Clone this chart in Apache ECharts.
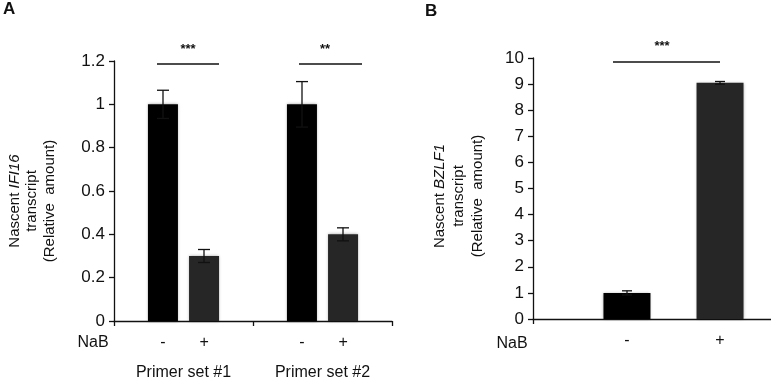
<!DOCTYPE html>
<html>
<head>
<meta charset="utf-8">
<script src="https://cdn.jsdelivr.net/npm/echarts@6/dist/echarts.min.js"></script>
<style>
  html, body { margin: 0; padding: 0; background: #fff; }
  #Chart { width: 771px; height: 380px; }
</style>
</head>
<body>
<div id="Chart"></div>
<script>
var Chart = echarts.init(document.getElementById('Chart'));

// panel A
var groupsA = ['Primer set #1', 'Primer set #2'];
var minusA = [1.0, 1.0];
var plusA = [0.30, 0.40];
var minusErrA = [0.065, 0.105];
var plusErrA = [0.03, 0.03];
var yMaxA = 1.2, yStepA = 0.2;

// panel B
var groupsB = [''];
var minusB = [1.0];
var plusB = [9.05];
var minusErrB = [0.08];
var plusErrB = [0.05];
var yMaxB = 10, yStepB = 1;

var font = 'Liberation Sans, Arial, sans-serif';
var ink = '#111';

function errData(vals, errs) {
    return vals.map(function (v, i) { return [i, v, errs[i]]; });
}

function errorBars(name, xi, data, shift, cap) {
    return {
        name: name,
        type: 'custom',
        xAxisIndex: xi,
        yAxisIndex: xi,
        z: 5,
        data: data,
        renderItem: function (params, api) {
            var hi = api.coord([api.value(0), api.value(1) + api.value(2)]);
            var lo = api.coord([api.value(0), api.value(1) - api.value(2)]);
            var x = hi[0] + shift;
            var st = { stroke: ink, lineWidth: 1.3 };
            return {
                type: 'group',
                children: [
                    { type: 'line', shape: { x1: x, y1: hi[1], x2: x, y2: lo[1] }, style: st },
                    { type: 'line', shape: { x1: x - cap / 2, y1: hi[1], x2: x + cap / 2, y2: hi[1] }, style: st },
                    { type: 'line', shape: { x1: x - cap / 2, y1: lo[1], x2: x + cap / 2, y2: lo[1] }, style: st }
                ]
            };
        }
    };
}

function barSeries(name, xi, data, color, width, gap) {
    return {
        name: name,
        type: 'bar',
        xAxisIndex: xi,
        yAxisIndex: xi,
        data: data,
        barWidth: width,
        barGap: gap,
        itemStyle: { color: color, shadowBlur: 3, shadowColor: 'rgba(0,0,0,0.35)' },
        label: {
            show: true,
            position: 'bottom',
            distance: 14,
            formatter: name,
            fontFamily: font,
            fontSize: 16,
            color: ink
        }
    };
}

var axisLine = { show: true, lineStyle: { color: ink, width: 1.3 } };
var axisTick = { show: true, length: 5, lineStyle: { color: ink, width: 1.3 } };
var tickLabel = { fontFamily: font, fontSize: 17, color: ink };

var option = {
    animation: false,
    grid: [
        { left: 114, top: 61, bottom: 59, width: 278, outerBoundsMode: 'none' },
        { left: 533, top: 58, bottom: 61, width: 281, outerBoundsMode: 'none' }
    ],
    xAxis: [
        {
            type: 'category', gridIndex: 0, data: groupsA,
            axisLine: axisLine, axisTick: axisTick,
            axisLabel: { margin: 44, fontFamily: font, fontSize: 16, color: ink }
        },
        {
            type: 'category', gridIndex: 1, data: groupsB,
            axisLine: axisLine, axisTick: axisTick,
            axisLabel: { show: false }
        }
    ],
    yAxis: [
        {
            type: 'value', gridIndex: 0, min: 0, max: yMaxA, interval: yStepA,
            splitLine: { show: false }, axisLine: axisLine, axisTick: axisTick,
            axisLabel: Object.assign({ margin: 9 }, tickLabel)
        },
        {
            type: 'value', gridIndex: 1, min: 0, max: yMaxB, interval: yStepB,
            splitLine: { show: false }, axisLine: axisLine, axisTick: axisTick,
            axisLabel: Object.assign({ margin: 9 }, tickLabel)
        }
    ],
    series: [
        barSeries('-', 0, minusA, '#000000', 30, '37%'),
        barSeries('+', 0, plusA, '#262626', 30, '37%'),
        errorBars('errMinusA', 0, errData(minusA, minusErrA), -20.5, 12),
        errorBars('errPlusA', 0, errData(plusA, plusErrA), 20.5, 12),
        barSeries('-', 1, minusB, '#000000', 47, '98%'),
        barSeries('+', 1, plusB, '#262626', 47, '98%'),
        errorBars('errMinusB', 1, errData(minusB, minusErrB), -46.5, 10),
        errorBars('errPlusB', 1, errData(plusB, plusErrB), 46.5, 10)
    ],
    graphic: [
        { type: 'text', left: 3, top: 1, style: { text: 'A', font: 'bold 17px ' + font, fill: ink } },
        { type: 'text', left: 425, top: 3, style: { text: 'B', font: 'bold 17px ' + font, fill: ink } },
        { type: 'text', x: 93, y: 343, style: { text: 'NaB', align: 'center', verticalAlign: 'middle', font: '16px ' + font, fill: ink } },
        { type: 'text', x: 512, y: 344, style: { text: 'NaB', align: 'center', verticalAlign: 'middle', font: '16px ' + font, fill: ink } },
        // significance
        { type: 'line', shape: { x1: 157, y1: 64, x2: 219, y2: 64 }, style: { stroke: ink, lineWidth: 1.3 } },
        { type: 'text', x: 188, y: 49, style: { text: '***', align: 'center', verticalAlign: 'middle', font: 'bold 13px ' + font, fill: ink } },
        { type: 'line', shape: { x1: 299, y1: 64, x2: 362, y2: 64 }, style: { stroke: ink, lineWidth: 1.3 } },
        { type: 'text', x: 325, y: 49, style: { text: '**', align: 'center', verticalAlign: 'middle', font: 'bold 13px ' + font, fill: ink } },
        { type: 'line', shape: { x1: 613, y1: 62, x2: 720, y2: 62 }, style: { stroke: ink, lineWidth: 1.3 } },
        { type: 'text', x: 662, y: 46, style: { text: '***', align: 'center', verticalAlign: 'middle', font: 'bold 13px ' + font, fill: ink } },
        // y axis titles
        {
            type: 'text', x: 32, y: 201, rotation: Math.PI / 2,
            style: {
                text: '{n|Nascent }{i|IFI16}\n{n|transcript}\n{n|(Relative  amount)}',
                align: 'center', verticalAlign: 'middle',
                rich: {
                    n: { fontFamily: font, fontSize: 15, lineHeight: 17.5, fill: ink, align: 'center' },
                    i: { fontFamily: font, fontSize: 15, fontStyle: 'italic', lineHeight: 17.5, fill: ink }
                }
            }
        },
        {
            type: 'text', x: 459, y: 196, rotation: Math.PI / 2,
            style: {
                text: '{n|Nascent }{i|BZLF1}\n{n|transcript}\n{n|(Relative  amount)}',
                align: 'center', verticalAlign: 'middle',
                rich: {
                    n: { fontFamily: font, fontSize: 15, lineHeight: 19, fill: ink, align: 'center' },
                    i: { fontFamily: font, fontSize: 15, fontStyle: 'italic', lineHeight: 19, fill: ink }
                }
            }
        }
    ]
};

Chart.setOption(option);

window.addEventListener("resize", function () {
    Chart.resize();
});
</script>
</body>
</html>
